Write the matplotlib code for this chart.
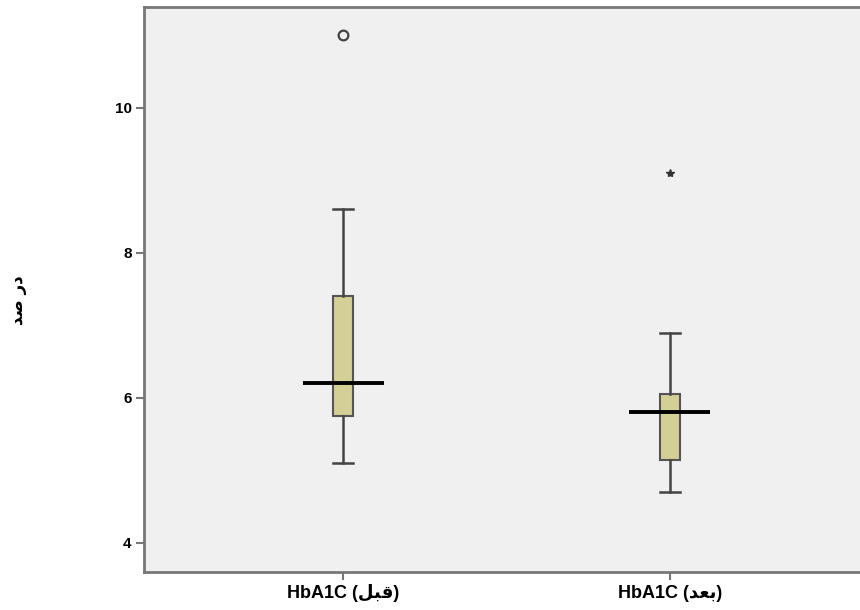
import matplotlib
matplotlib.use('Agg')
import matplotlib.pyplot as plt

# HbA1C before / after
positions = [1, 2]
# labels written with Arabic presentation forms in visual order
# (matplotlib does no shaping): "HbA1C (قبل)", "HbA1C (بعد)"
tick_labels = ['HbA1C (\ufede\ufe92\ufed7)', 'HbA1C (\ufeaa\ufecc\ufe91)']
ylabel = '\ufeaa\ufebb \ufead\ufea9'   # "در صد"

whislo = [5.1, 4.7]
q1 = [5.75, 5.15]
med = [6.2, 5.8]
q3 = [7.4, 6.05]
whishi = [8.6, 6.9]
outliers_circle = [11.0, None]
outliers_star = [None, 9.1]

yticks = [4, 6, 8, 10]

plt.rcParams['font.family'] = ['Liberation Sans', 'DejaVu Sans']

fig = plt.figure(figsize=(8.6, 6.1), dpi=100)
ax = fig.add_axes([144/860, 1-572/610, (869-144)/860, (572-7)/610])
ax.set_facecolor('#f0f0f0')

stats = []
for i in range(len(positions)):
    stats.append({'whislo': whislo[i], 'q1': q1[i], 'med': med[i],
                  'q3': q3[i], 'whishi': whishi[i], 'fliers': []})

ax.bxp(stats, positions=positions, widths=0.061, patch_artist=True,
       showfliers=False,
       boxprops=dict(facecolor='#d3cf96', edgecolor='#555555', linewidth=1.5),
       whiskerprops=dict(color='#444444', linewidth=1.8),
       capprops=dict(color='#444444', linewidth=1.8),
       medianprops=dict(visible=False), capwidths=0.061)

# SPSS draws the median bar wider than the box
ax.hlines(med, [p - 0.124 for p in positions], [p + 0.124 for p in positions],
          colors='black', linewidth=2.8, zorder=5)

for p, v in zip(positions, outliers_circle):
    if v is not None:
        ax.plot(p, v, 'o', markersize=7, markerfacecolor='none',
                markeredgecolor='#444444', markeredgewidth=1.6)
for p, v in zip(positions, outliers_star):
    if v is not None:
        ax.plot(p, v, '*', markersize=6, color='#333333')

ax.set_xlim(0.391, 2.609)
ax.set_ylim(3.6, 11.39)
ax.set_yticks(yticks)
ax.set_yticklabels([str(t) for t in yticks], fontsize=11, fontweight='bold')
ax.set_xticks(positions)
ax.set_xticklabels(tick_labels, fontsize=13, fontweight='bold')

for s in ax.spines.values():
    s.set_color('#777777')
    s.set_linewidth(2)
ax.tick_params(axis='both', direction='out', length=6, width=1.5,
               color='#777777', pad=3)

fig.text(18/860, 1-300/610, ylabel, rotation=90, fontsize=12,
         fontweight='bold', ha='center', va='center',
         family=['DejaVu Sans'])

fig.savefig('out.png', dpi=100)
